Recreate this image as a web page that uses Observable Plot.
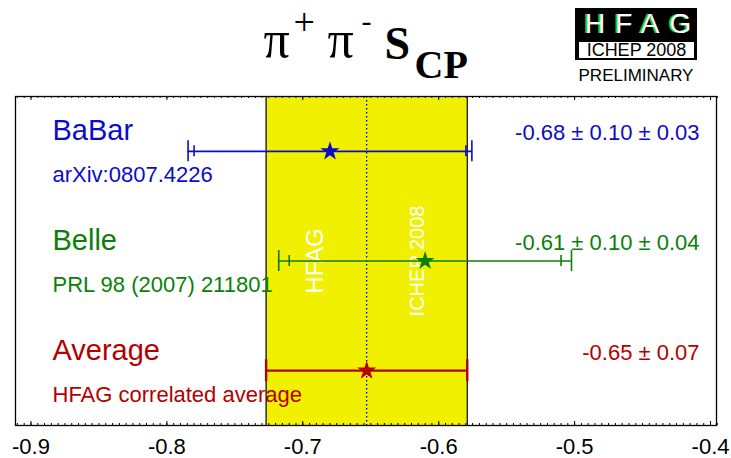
<!DOCTYPE html>
<html>
<head>
<meta charset="utf-8">
<script src="https://cdn.jsdelivr.net/npm/d3@7"></script>
<script src="https://cdn.jsdelivr.net/npm/@observablehq/plot@0.6"></script>
<style>
  body { margin: 0; background: #fff; }
  #wrap { position: relative; width: 731px; height: 458px; font-family: "Liberation Sans", Arial, sans-serif; }
  #wrap svg { position: absolute; left: 0; top: 0; }
  .logo-box { position: absolute; left: 575px; top: 8px; width: 122px; height: 52px; background: #000; }
  .logo-hfag { position: absolute; left: 585px; top: 10px; font-size: 28px; line-height: 27px; color: #fff;
               letter-spacing: 10px; text-shadow: -2px 0 0 #1fd01f; white-space: nowrap; }
  .logo-conf { position: absolute; left: 579px; top: 42px; width: 115px; height: 16px; background: #fff;
               font-size: 18px; line-height: 17px; text-align: center; color: #000; white-space: nowrap; }
  .logo-prelim { position: absolute; left: 575px; top: 67px; width: 122px; font-size: 17px; line-height: 17px;
                 text-align: center; color: #000; white-space: nowrap; }
</style>
</head>
<body>
<div id="wrap">
  <div class="logo-box"></div>
  <div class="logo-hfag">HFAG</div>
  <div class="logo-conf">ICHEP 2008</div>
  <div class="logo-prelim">PRELIMINARY</div>
</div>
<script>
// S_CP in B0 -> pi+ pi- : individual measurements and the HFAG average
const experiments = ["BaBar", "Belle", "Average"];
const references = ["arXiv:0807.4226", "PRL 98 (2007) 211801", "HFAG correlated average"];
const central = [-0.68, -0.61, -0.653];
const statErr = [0.10, 0.10, 0.074];
const systErr = [0.03, 0.04, null];
const colors = ["#0c0cc8", "#0a800a", "#b40000"];
const xTicks = [-0.9, -0.8, -0.7, -0.6, -0.5, -0.4];
const bandLabels = ["HFAG", "ICHEP 2008"];

const rows = experiments.map((name, i) => ({
  name,
  ref: references[i],
  row: i,
  c: central[i],
  stat: statErr[i],
  syst: systErr[i],
  tot: systErr[i] == null ? statErr[i] : Math.hypot(statErr[i], systErr[i]),
  color: colors[i]
}));
rows.forEach(d => {
  d.label = d.syst == null
    ? `${d.c.toFixed(2)} \u00b1 ${d.stat.toFixed(2)}`
    : `${d.c.toFixed(2)} \u00b1 ${d.stat.toFixed(2)} \u00b1 ${d.syst.toFixed(2)}`;
});
const measurements = rows.filter(d => d.syst != null);
const average = rows.filter(d => d.syst == null);
const avg = average[0];

// layout of the plotting frame
const W = 731, H = 458;
const mTop = 96, mBottom = 33, mLeft = 15, mRight = 15;
const frameH = H - mTop - mBottom;          // 330 px
const rowPx = frameH / 3;                   // px per row unit
const px = p => p / rowPx;                  // pixel length -> row units

const minorTicks = d3.range(-182, -78).map(i => i / 200);

const serif = "Liberation Serif, Times New Roman, serif";

const chart = Plot.plot({
  width: W,
  height: H,
  marginTop: mTop,
  marginBottom: mBottom,
  marginLeft: mLeft,
  marginRight: mRight,
  x: {domain: [-0.9114, -0.3956], axis: null},
  y: {domain: [-0.5, 2.5], reverse: true, axis: null},
  style: {fontFamily: "Liberation Sans, Arial, sans-serif", background: "white", overflow: "visible"},
  marks: [
    // average band
    Plot.rect(average, {x1: d => d.c - d.stat, x2: d => d.c + d.stat, y1: -0.5, y2: 2.5, fill: "#f0f000"}),
    Plot.ruleX(average, {x: d => d.c - d.stat, stroke: "black", strokeWidth: 1.2}),
    Plot.ruleX(average, {x: d => d.c + d.stat, stroke: "black", strokeWidth: 1.2}),
    Plot.ruleX(average, {x: "c", stroke: "black", strokeWidth: 1.2, strokeDasharray: "1.5,2.5"}),
    // labels written inside the band
    Plot.text(bandLabels.slice(0, 1), {x: () => avg.c, y: () => 1, text: d => d, rotate: -90,
      lineAnchor: "bottom", dx: -44, fill: "white", fontSize: 24}),
    Plot.text(bandLabels.slice(1), {x: () => avg.c, y: () => 1, text: d => d, rotate: -90,
      lineAnchor: "bottom", dx: 57, fill: "white", fontSize: 20}),

    // measurements: total error line, total caps, statistical caps
    Plot.ruleY(measurements, {y: "row", x1: d => d.c - d.tot, x2: d => d.c + d.tot, stroke: "color", strokeWidth: 1.6}),
    Plot.ruleX(measurements, {x: d => d.c - d.tot, y1: d => d.row - px(10.5), y2: d => d.row + px(10.5), stroke: "color", strokeWidth: 1.6}),
    Plot.ruleX(measurements, {x: d => d.c + d.tot, y1: d => d.row - px(10.5), y2: d => d.row + px(10.5), stroke: "color", strokeWidth: 1.6}),
    Plot.ruleX(measurements, {x: d => d.c - d.stat, y1: d => d.row - px(5.5), y2: d => d.row + px(5.5), stroke: "color", strokeWidth: 1.6}),
    Plot.ruleX(measurements, {x: d => d.c + d.stat, y1: d => d.row - px(5.5), y2: d => d.row + px(5.5), stroke: "color", strokeWidth: 1.6}),
    // average error bar
    Plot.ruleY(average, {y: "row", x1: d => d.c - d.tot, x2: d => d.c + d.tot, stroke: "color", strokeWidth: 2.4}),
    Plot.ruleX(average, {x: d => d.c - d.tot, y1: d => d.row - px(11), y2: d => d.row + px(11), stroke: "color", strokeWidth: 2.4}),
    Plot.ruleX(average, {x: d => d.c + d.tot, y1: d => d.row - px(11), y2: d => d.row + px(11), stroke: "color", strokeWidth: 2.4}),
    // central values
    Plot.dot(rows, {x: "c", y: "row", symbol: "star", r: 6, fill: "color", stroke: "none"}),

    // row labels
    Plot.text(rows, {y: "row", frameAnchor: "left", dx: 37, dy: -11, lineAnchor: "bottom", textAnchor: "start",
      text: "name", fill: "color", fontSize: 29}),
    Plot.text(rows, {y: "row", frameAnchor: "left", dx: 37, dy: 31, lineAnchor: "bottom", textAnchor: "start",
      text: "ref", fill: "color", fontSize: 22}),
    Plot.text(rows, {y: "row", frameAnchor: "right", dx: -17, dy: -11, lineAnchor: "bottom", textAnchor: "end",
      text: "label", fill: "color", fontSize: 22}),

    // frame and ticks
    Plot.frame({stroke: "black", strokeWidth: 1.3}),
    Plot.ruleX(minorTicks, {x: d => d, insetTop: frameH - 2, stroke: "black"}),
    Plot.ruleX(minorTicks, {x: d => d, insetBottom: frameH - 2, stroke: "black"}),
    Plot.ruleX(xTicks, {x: d => d, insetTop: frameH - 4, stroke: "black"}),
    Plot.ruleX(xTicks, {x: d => d, insetBottom: frameH - 4, stroke: "black"}),
    Plot.text(xTicks, {x: d => d, frameAnchor: "bottom", dy: 28, lineAnchor: "bottom",
      text: d => d.toFixed(1), fontSize: 22, fill: "black"}),

    // title: pi+ pi- S_CP
    Plot.text(["\u03c0"], {frameAnchor: "top-left", dx: 263 - mLeft, dy: 56 - mTop, lineAnchor: "bottom",
      textAnchor: "start", fontFamily: serif, fontSize: 52, fill: "black"}),
    Plot.text(["+"], {frameAnchor: "top-left", dx: 293 - mLeft, dy: 34 - mTop, lineAnchor: "bottom",
      textAnchor: "start", fontFamily: serif, fontSize: 38, fill: "black"}),
    Plot.text(["\u03c0"], {frameAnchor: "top-left", dx: 327 - mLeft, dy: 56 - mTop, lineAnchor: "bottom",
      textAnchor: "start", fontFamily: serif, fontSize: 52, fill: "black"}),
    Plot.text(["-"], {frameAnchor: "top-left", dx: 361 - mLeft, dy: 30 - mTop, lineAnchor: "bottom",
      textAnchor: "start", fontFamily: serif, fontSize: 30, fill: "black"}),
    Plot.text(["S"], {frameAnchor: "top-left", dx: 384 - mLeft, dy: 58 - mTop, lineAnchor: "bottom",
      textAnchor: "start", fontFamily: serif, fontSize: 46, fontWeight: "bold", fill: "black"}),
    Plot.text(["CP"], {frameAnchor: "top-left", dx: 414 - mLeft, dy: 77 - mTop, lineAnchor: "bottom",
      textAnchor: "start", fontFamily: serif, fontSize: 40, fontWeight: "bold", fill: "black"})
  ]
});

document.getElementById("wrap").prepend(chart);
</script>
</body>
</html>
